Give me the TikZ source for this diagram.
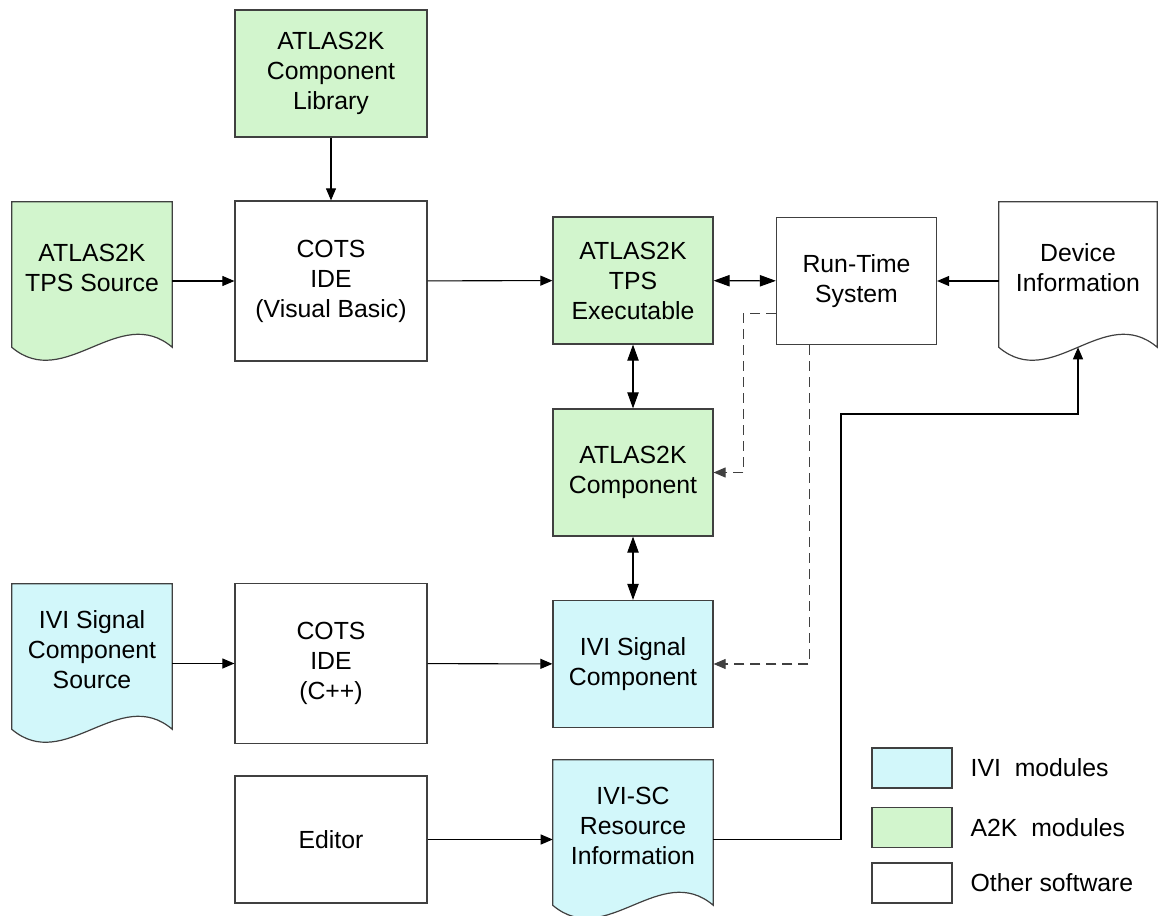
\documentclass[tikz,border=0pt]{standalone}
\usepackage{fontspec}
\setmainfont{Liberation Sans}
\usetikzlibrary{arrows.meta, positioning, calc, backgrounds}
\definecolor{a2kgreen}{RGB}{210,245,205}
\definecolor{ivicyan}{RGB}{210,247,250}
\definecolor{boxgray}{RGB}{64,64,64}

\tikzset{
  block/.style={draw=boxgray, line width=0.9pt, fill=white, align=center,
    minimum width=120pt, minimum height=95.25pt, inner sep=2pt},
  wideblock/.style={block, minimum width=144pt},
  docnode/.style={align=center, minimum width=120pt, minimum height=98.25pt, inner sep=0pt},
  legbox/.style={block, minimum width=60pt, minimum height=30pt},
  arr/.style={-{Triangle[length=9pt,width=7.5pt]}, line width=0.8pt},
  dblarr/.style={{Triangle[length=12pt,width=8.5pt]}-{Triangle[length=12pt,width=8.5pt]}, line width=0.8pt},
  dasharr/.style={arr, draw=boxgray, dash pattern=on 7.5pt off 4.5pt},
}

% document shape (wavy bottom) round a named node
\newcommand{\docoutline}[2]{%
  \draw[draw=boxgray, line width=0.9pt, fill=#2]
    (#1.north west) -- ($(#1.south west)+(0,14)$)
    .. controls +(53,45) and +(-53,-45) .. ($(#1.south east)+(0,14)$)
    -- (#1.north east) -- cycle;}

\begin{document}
\begin{tikzpicture}[x=0.75pt, y=-0.75pt, font=\fontsize{18.6}{22.5}\selectfont]
\useasboundingbox (0,0) rectangle (1159,916);

% top part
\node[wideblock, fill=a2kgreen] (lib) at (331,73.5) {ATLAS2K\\Component\\Library};
\node[docnode] (tpssrc) at (92,267.5) {ATLAS2K\\TPS Source};
\node[wideblock, minimum height=120pt] (idevb) at (331,281) {COTS\\IDE\\(Visual Basic)};
\node[block, fill=a2kgreen] (tpsexe) at (633,280.5) {ATLAS2K\\TPS\\Executable};
\node[block] (rts) at (856.5,281) {Run-Time\\System};
\node[docnode, minimum width=118.5pt] (devinfo) at (1078,267.5) {Device\\Information};
\node[block, fill=a2kgreen] (a2kcomp) at (633,472.5) {ATLAS2K\\Component};

% bottom part
\node[docnode] (ivisrc) at (92,649.5) {IVI Signal\\Component\\Source};
\node[wideblock, minimum height=120pt] (idecpp) at (331,663.5) {COTS\\IDE\\(C++)};
\node[block, fill=ivicyan] (ivicomp) at (633,664) {IVI Signal\\Component};
\node[wideblock] (editor) at (331,839.5) {Editor};
\node[docnode] (ivires) at (633,825.5) {IVI-SC\\Resource\\Information};

\begin{scope}[on background layer]
  \docoutline{tpssrc}{a2kgreen}
  \docoutline{devinfo}{white}
  \docoutline{ivisrc}{ivicyan}
  \docoutline{ivires}{ivicyan}
\end{scope}

% legend
\node[legbox, fill=ivicyan] (legivi) at (912,768) {};
\node[right=10pt of legivi] (txtivi) {IVI~~modules};
\node[legbox, fill=a2kgreen] (lega2k) at (912,827.5) {};
\node[right=10pt of lega2k] (txta2k) {A2K~~modules};
\node[legbox] (legother) at (912,883) {};
\node[right=10pt of legother] (txtother) {Other software};

% connectors
\draw[arr] (lib) -- (idevb);
\draw[arr] (tpssrc.east |- idevb.west) -- (idevb.west);
\draw[arr] (idevb) -- (tpsexe);
\draw[dblarr] (tpsexe) -- (rts);
\draw[arr] (devinfo.west |- rts.east) -- (rts.east);
\draw[dblarr] (tpsexe) -- (a2kcomp);
\draw[dblarr] (a2kcomp) -- (ivicomp);
\draw[dasharr] ($(rts.south west)+(0,-32)$) -- ++(-32,0) |- (a2kcomp.east);
\draw[dasharr] ($(rts.south)+(-47,0)$) |- (ivicomp.east);
\draw[arr] (ivisrc.east |- idecpp.west) -- (idecpp.west);
\draw[arr] (idecpp) -- (ivicomp);
\draw[arr] (editor.east) -- (ivires.west |- editor.east);
\coordinate (bend) at (841,414);
\draw[arr] (ivires.east |- editor.east) -| (bend) -| ($(devinfo.south)+(0,14)$);
\end{tikzpicture}
\end{document}
